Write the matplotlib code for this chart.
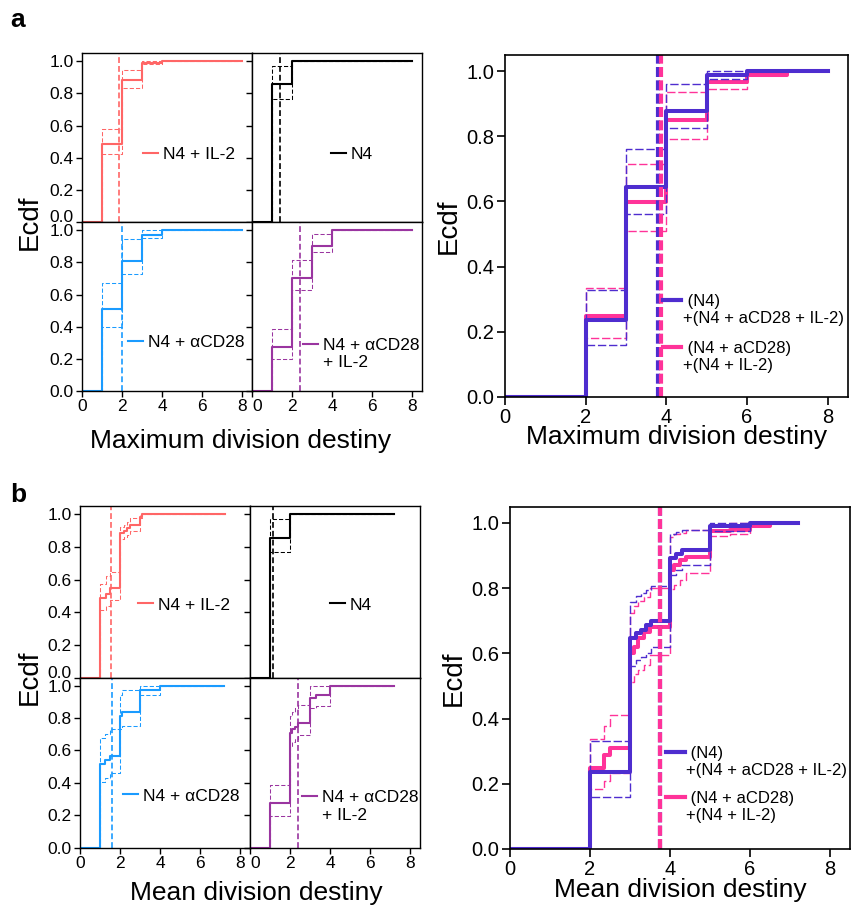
import matplotlib.pyplot as plt
from matplotlib.lines import Line2D

plt.rcParams['font.family'] = ['Liberation Sans', 'DejaVu Sans']

# ---------------- data: panel a, maximum division destiny ----------------
max_x_il2 = [0, 1, 2, 3, 4, 8]
max_y_il2 = [0, 0.485, 0.88, 0.99, 1.0, 1.0]
max_lo_il2 = [0, 0.425, 0.835, 0.98, 1.0, 1.0]
max_hi_il2 = [0, 0.58, 0.945, 1.0, 1.0, 1.0]
max_med_il2 = 1.86

max_x_n4 = [0, 1, 2, 8]
max_y_n4 = [0, 0.855, 1.0, 1.0]
max_lo_n4 = [0, 0.765, 1.0, 1.0]
max_hi_n4 = [0, 0.97, 1.0, 1.0]
max_med_n4 = 1.39

max_x_cd28 = [0, 1, 2, 3, 4, 8]
max_y_cd28 = [0, 0.51, 0.81, 0.97, 1.0, 1.0]
max_lo_cd28 = [0, 0.40, 0.73, 0.955, 1.0, 1.0]
max_hi_cd28 = [0, 0.675, 0.945, 1.0, 1.0, 1.0]
max_med_cd28 = 2.02

max_x_cd28il2 = [0, 1, 2, 3, 4, 8]
max_y_cd28il2 = [0, 0.275, 0.705, 0.905, 1.0, 1.0]
max_lo_cd28il2 = [0, 0.20, 0.63, 0.865, 1.0, 1.0]
max_hi_cd28il2 = [0, 0.385, 0.815, 0.98, 1.0, 1.0]
max_med_cd28il2 = 2.40

# pooled pairs
max_x_p1 = [0, 2, 3, 4, 5, 6, 8]
max_y_p1 = [0, 0.236, 0.645, 0.878, 0.988, 1.0, 1.0]
max_lo_p1 = [0, 0.16, 0.56, 0.825, 0.976, 1.0, 1.0]
max_hi_p1 = [0, 0.328, 0.76, 0.96, 1.0, 1.0, 1.0]
max_med_p1 = 3.79

max_x_p2 = [0, 2, 3, 4, 5, 6, 7, 8]
max_y_p2 = [0, 0.247, 0.597, 0.851, 0.966, 0.99, 1.0, 1.0]
max_lo_p2 = [0, 0.18, 0.51, 0.792, 0.944, 0.99, 1.0, 1.0]
max_hi_p2 = [0, 0.334, 0.715, 0.935, 0.99, 1.0, 1.0, 1.0]
max_med_p2 = 3.86

# ---------------- data: panel b, mean division destiny ----------------
mean_x_il2 = [0, 1.0, 1.3, 1.5, 2.0, 2.2, 2.35, 2.5, 3.0, 3.1, 7.25]
mean_y_il2 = [0, 0.485, 0.51, 0.55, 0.885, 0.90, 0.915, 0.935, 0.985, 1.0, 1.0]
mean_lo_il2 = [0, 0.415, 0.44, 0.475, 0.845, 0.86, 0.875, 0.90, 0.975, 1.0, 1.0]
mean_hi_il2 = [0, 0.575, 0.62, 0.645, 0.92, 0.935, 0.955, 0.975, 1.0, 1.0, 1.0]
mean_med_il2 = 1.53

mean_x_n4 = [0, 1.0, 2.0, 7.2]
mean_y_n4 = [0, 0.856, 1.0, 1.0]
mean_lo_n4 = [0, 0.767, 1.0, 1.0]
mean_hi_n4 = [0, 0.973, 1.0, 1.0]
mean_med_n4 = 1.15

mean_x_cd28 = [0, 1.0, 1.25, 1.5, 2.0, 2.1, 3.0, 4.0, 7.2]
mean_y_cd28 = [0, 0.514, 0.541, 0.568, 0.81, 0.838, 0.973, 1.0, 1.0]
mean_lo_cd28 = [0, 0.405, 0.43, 0.46, 0.73, 0.75, 0.945, 1.0, 1.0]
mean_hi_cd28 = [0, 0.675, 0.70, 0.73, 0.94, 0.975, 1.0, 1.0, 1.0]
mean_med_cd28 = 1.62

mean_x_cd28il2 = [0, 1.0, 2.0, 2.1, 2.25, 2.4, 3.0, 3.3, 4.0, 7.2]
mean_y_cd28il2 = [0, 0.276, 0.706, 0.732, 0.745, 0.772, 0.924, 0.94, 1.0, 1.0]
mean_lo_cd28il2 = [0, 0.198, 0.626, 0.65, 0.67, 0.693, 0.86, 0.875, 1.0, 1.0]
mean_hi_cd28il2 = [0, 0.385, 0.81, 0.84, 0.862, 0.88, 1.0, 1.0, 1.0, 1.0]
mean_med_cd28il2 = 2.38

mean_x_p1 = [0, 2.0, 3.0, 3.14, 3.27, 3.39, 3.52, 4.0, 4.14, 4.30, 5.0, 6.0, 7.2]
mean_y_p1 = [0, 0.237, 0.646, 0.662, 0.672, 0.687, 0.70, 0.892, 0.905, 0.916, 0.99, 1.0, 1.0]
mean_lo_p1 = [0, 0.161, 0.561, 0.58, 0.59, 0.60, 0.62, 0.841, 0.855, 0.87, 0.975, 1.0, 1.0]
mean_hi_p1 = [0, 0.33, 0.759, 0.775, 0.785, 0.795, 0.807, 0.967, 0.972, 0.98, 1.0, 1.0, 1.0]
mean_med_p1 = 3.75

mean_x_p2 = [0, 2.0, 2.36, 2.5, 3.0, 3.1, 3.2, 3.35, 3.5, 4.0, 4.1, 4.25, 4.4, 5.0, 5.5, 6.0, 6.5, 7.2]
mean_y_p2 = [0, 0.248, 0.289, 0.31, 0.60, 0.62, 0.646, 0.667, 0.682, 0.856, 0.87, 0.887, 0.897, 0.974, 0.98, 0.99, 1.0, 1.0]
mean_lo_p2 = [0, 0.184, 0.21, 0.233, 0.513, 0.538, 0.55, 0.565, 0.595, 0.797, 0.81, 0.826, 0.848, 0.961, 0.965, 0.99, 1.0, 1.0]
mean_hi_p2 = [0, 0.338, 0.376, 0.412, 0.725, 0.745, 0.76, 0.774, 0.80, 0.957, 0.965, 0.97, 0.98, 0.995, 1.0, 1.0, 1.0, 1.0]
mean_med_p2 = 3.75

# labels and colours
lab_il2 = ['N4 + IL-2']
lab_n4 = ['N4']
lab_cd28 = ['N4 + αCD28']
lab_cd28il2 = ['N4 + αCD28', '+ IL-2']
lab_p1 = [' (N4)', '+(N4 + aCD28 + IL-2)']
lab_p2 = [' (N4 + aCD28)', '+(N4 + IL-2)']

c_il2 = '#FF6666'
c_n4 = 'black'
c_cd28 = '#1A9BFF'
c_cd28il2 = '#9A35A0'
c_p1 = '#4E2DCF'
c_p2 = '#FF3399'

yticks = [0, 0.2, 0.4, 0.6, 0.8, 1.0]
xticks = [0, 2, 4, 6, 8]

W, H = 851, 908
fig = plt.figure(figsize=(W / 100, H / 100), dpi=100)


def box(l, t, r, b):
    # pixel box -> figure fraction
    return [l / W, 1 - b / H, (r - l) / W, (b - t) / H]


def ci_and_line(ax, x, y, lo, hi, color, lw, ci_lw, ci_dash):
    ax.step(x, lo, where='post', color=color, lw=ci_lw, ls='--', dashes=ci_dash)
    ax.step(x, hi, where='post', color=color, lw=ci_lw, ls='--', dashes=ci_dash)
    ax.step(x, y, where='post', color=color, lw=lw)


def small_axes(rect, data, color, labels, leg_xy, bottom, left):
    x, y, lo, hi, med = data
    ax = fig.add_axes(rect)
    ci_and_line(ax, x, y, lo, hi, color, 1.5, 0.75, (4, 2))
    ax.axvline(med, color=color, lw=1.2, ls='--', dashes=(3.5, 1.8))
    ax.set_xlim(0, 8.5)
    ax.set_ylim(0, 1.05)
    ax.set_xticks(xticks)
    ax.set_yticks(yticks)
    ax.set_yticklabels(['%.1f' % v for v in yticks])
    ax.tick_params(direction='out', length=4, width=1, labelsize=12.5, pad=2,
                   labelbottom=bottom, labelleft=left)
    if bottom and not left:
        # first label of the right column sits just right of the spine
        ax.get_xticklabels()[0].set_horizontalalignment('left')
    if left and not bottom:
        # lift the 0.0 of the top row off the 1.0 below it
        ax.get_yticklabels()[0].set_verticalalignment('baseline')
    for s in ax.spines.values():
        s.set_linewidth(1)
    handles = [Line2D([], [], color=color, lw=1.5)] + \
              [Line2D([], [], color='none')] * (len(labels) - 1)
    ax.legend(handles, labels, loc='center left', bbox_to_anchor=leg_xy,
              frameon=False, fontsize=12.5, handlelength=0.85, handletextpad=0.3,
              borderpad=0, borderaxespad=0, labelspacing=0.15)
    return ax


def big_axes(rect, d1, d2, xlabel, leg1_xy, leg2_xy):
    ax = fig.add_axes(rect)
    ci_and_line(ax, d2[0], d2[1], d2[2], d2[3], c_p2, 2.9, 1.0, (6, 2))
    ci_and_line(ax, d1[0], d1[1], d1[2], d1[3], c_p1, 2.9, 1.0, (6, 2))
    ax.axvline(d1[4], color=c_p1, lw=3, ls='--', dashes=(2.4, 0.8))
    ax.axvline(d2[4], color=c_p2, lw=3, ls='--', dashes=(2.4, 0.8))
    ax.set_xlim(0, 8.5)
    ax.set_ylim(0, 1.05)
    ax.set_xticks(xticks)
    ax.set_yticks(yticks)
    ax.set_yticklabels(['%.1f' % v for v in yticks])
    ax.tick_params(direction='out', length=6, width=1.2, labelsize=14.5, pad=2)
    for s in ax.spines.values():
        s.set_linewidth(1.2)
    ax.set_xlabel(xlabel, fontsize=19, labelpad=-1)
    ax.set_ylabel('Ecdf', fontsize=20, labelpad=3)
    handles1 = [Line2D([], [], color=c_p1, lw=3), Line2D([], [], color='none')]
    leg1 = ax.legend(handles1, lab_p1, loc='center left', bbox_to_anchor=leg1_xy,
                     frameon=False, fontsize=12, handlelength=1.1,
                     handletextpad=0.1, borderpad=0, borderaxespad=0,
                     labelspacing=0.1)
    ax.add_artist(leg1)
    handles2 = [Line2D([], [], color=c_p2, lw=3), Line2D([], [], color='none')]
    ax.legend(handles2, lab_p2, loc='center left', bbox_to_anchor=leg2_xy,
              frameon=False, fontsize=12, handlelength=1.1,
              handletextpad=0.1, borderpad=0, borderaxespad=0,
              labelspacing=0.1)
    return ax


# ---------------- panel a ----------------
small_axes(box(82, 53, 252, 222.3),
           (max_x_il2, max_y_il2, max_lo_il2, max_hi_il2, max_med_il2),
           c_il2, lab_il2, (0.36, 0.40), False, True)
small_axes(box(252, 53, 422, 222.3),
           (max_x_n4, max_y_n4, max_lo_n4, max_hi_n4, max_med_n4),
           c_n4, lab_n4, (0.465, 0.40), False, False)
small_axes(box(82, 222.3, 252, 391),
           (max_x_cd28, max_y_cd28, max_lo_cd28, max_hi_cd28, max_med_cd28),
           c_cd28, lab_cd28, (0.27, 0.285), True, True)
small_axes(box(252, 222.3, 422, 391),
           (max_x_cd28il2, max_y_cd28il2, max_lo_cd28il2, max_hi_cd28il2, max_med_cd28il2),
           c_cd28il2, lab_cd28il2, (0.30, 0.22), True, False)
fig.text(241 / W, 1 - 441 / H, 'Maximum division destiny', fontsize=19,
         ha='center', va='center')
fig.text(30 / W, 1 - 222 / H, 'Ecdf', fontsize=20, rotation=90,
         ha='center', va='center')

big_axes(box(505, 55, 847.7, 396.7),
         (max_x_p1, max_y_p1, max_lo_p1, max_hi_p1, max_med_p1),
         (max_x_p2, max_y_p2, max_lo_p2, max_hi_p2, max_med_p2),
         'Maximum division destiny', (0.46, 0.254), (0.46, 0.117))

# ---------------- panel b ----------------
small_axes(box(80, 506, 250, 677.5),
           (mean_x_il2, mean_y_il2, mean_lo_il2, mean_hi_il2, mean_med_il2),
           c_il2, lab_il2, (0.341, 0.423), False, True)
small_axes(box(250, 506, 420, 677.5),
           (mean_x_n4, mean_y_n4, mean_lo_n4, mean_hi_n4, mean_med_n4),
           c_n4, lab_n4, (0.47, 0.423), False, False)
small_axes(box(80, 677.5, 250, 847.7),
           (mean_x_cd28, mean_y_cd28, mean_lo_cd28, mean_hi_cd28, mean_med_cd28),
           c_cd28, lab_cd28, (0.253, 0.304), True, True)
small_axes(box(250, 677.5, 420, 847.7),
           (mean_x_cd28il2, mean_y_cd28il2, mean_lo_cd28il2, mean_hi_cd28il2, mean_med_cd28il2),
           c_cd28il2, lab_cd28il2, (0.306, 0.242), True, False)
fig.text(256 / W, 1 - 893 / H, 'Mean division destiny', fontsize=19,
         ha='center', va='center')
fig.text(30 / W, 1 - 677 / H, 'Ecdf', fontsize=20, rotation=90,
         ha='center', va='center')

big_axes(box(510, 506.7, 850, 849),
         (mean_x_p1, mean_y_p1, mean_lo_p1, mean_hi_p1, mean_med_p1),
         (mean_x_p2, mean_y_p2, mean_lo_p2, mean_hi_p2, mean_med_p2),
         'Mean division destiny', (0.46, 0.255), (0.46, 0.123))

fig.text(18 / W, 1 - 20 / H, 'a', fontsize=19, fontweight='bold', ha='center', va='center')
fig.text(18 / W, 1 - 495 / H, 'b', fontsize=19, fontweight='bold', ha='center', va='center')

fig.savefig('out.png', dpi=100)
